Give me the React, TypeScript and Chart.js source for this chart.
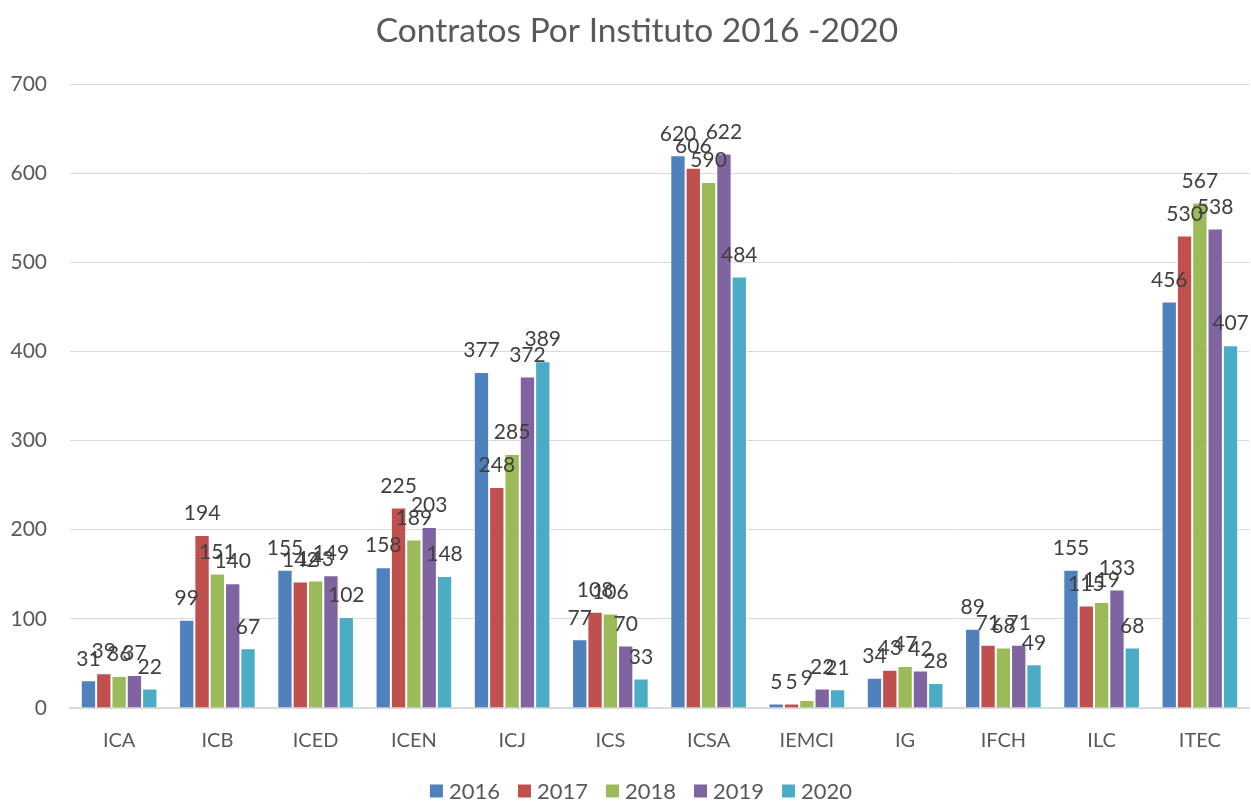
import React, { useEffect, useRef } from "react";
import { Chart, registerables } from "chart.js";

Chart.register(...registerables);

const categories = ["ICA", "ICB", "ICED", "ICEN", "ICJ", "ICS", "ICSA", "IEMCI", "IG", "IFCH", "ILC", "ITEC"];
const years = ["2016", "2017", "2018", "2019", "2020"];
const v2016 = [31, 99, 155, 158, 377, 77, 620, 5, 34, 89, 155, 456];
const v2017 = [39, 194, 142, 225, 248, 108, 606, 5, 43, 71, 115, 530];
const v2018 = [36, 151, 143, 189, 285, 106, 590, 9, 47, 68, 119, 567];
const v2019 = [37, 140, 149, 203, 372, 70, 622, 22, 42, 71, 133, 538];
const v2020 = [22, 67, 102, 148, 389, 33, 484, 21, 28, 49, 68, 407];
const colors = ["#4f81bd", "#c0504d", "#9bbb59", "#8064a2", "#4bacc6"];
const yTicks = [0, 100, 200, 300, 400, 500, 600, 700];
const titleText = "Contratos Por Instituto 2016 -2020";

const FONT = "Lato, 'Open Sans', sans-serif";

const labelPlugin = {
  id: "barLabels",
  afterDatasetsDraw(chart: any) {
    const ctx = chart.ctx;
    ctx.save();
    ctx.font = `21px ${FONT}`;
    ctx.fillStyle = "#404040";
    ctx.textAlign = "center";
    ctx.textBaseline = "bottom";
    chart.data.datasets.forEach((ds: any, i: number) => {
      const meta = chart.getDatasetMeta(i);
      meta.data.forEach((bar: any, j: number) => {
        ctx.fillText(String(ds.data[j]), bar.x, bar.y - 11);
      });
    });
    ctx.restore();
  },
};

const titleLegendPlugin = {
  id: "titleLegend",
  afterDraw(chart: any) {
    const ctx = chart.ctx;
    ctx.save();
    ctx.font = `33.5px ${FONT}`;
    ctx.fillStyle = "#595959";
    ctx.textAlign = "center";
    ctx.textBaseline = "middle";
    ctx.fillText(titleText, 637, 31);
    ctx.font = `22px ${FONT}`;
    const box = 13;
    const gapText = 6;
    const gapItem = 18;
    const widths = chart.data.datasets.map((ds: any) => box + gapText + ctx.measureText(ds.label).width);
    const total = widths.reduce((a: number, b: number) => a + b, 0) + gapItem * (widths.length - 1);
    let x = 641 - total / 2;
    const cy = 791;
    ctx.textAlign = "left";
    chart.data.datasets.forEach((ds: any, i: number) => {
      ctx.fillStyle = ds.backgroundColor;
      ctx.fillRect(x, cy - box / 2, box, box);
      ctx.fillStyle = "#595959";
      ctx.fillText(ds.label, x + box + gapText, cy + 1);
      x += widths[i] + gapItem;
    });
    ctx.restore();
  },
};

export default function App() {
  const ref = useRef<HTMLCanvasElement>(null);
  useEffect(() => {
    document.body.style.margin = "0";
    const series = [v2016, v2017, v2018, v2019, v2020];
    const chart = new Chart(ref.current!, {
      type: "bar",
      data: {
        labels: categories,
        datasets: series.map((d, i) => ({
          label: years[i],
          data: d,
          backgroundColor: colors[i],
          borderColor: "#ffffff",
          borderWidth: 1,
          barPercentage: 1,
          categoryPercentage: 0.78,
        })),
      },
      options: {
        responsive: false,
        animation: false,
        layout: { padding: { left: 0, right: 2, top: 84, bottom: 35 } },
        plugins: {
          title: { display: false },
          legend: { display: false },
          tooltip: { enabled: false },
        },
        scales: {
          x: {
            grid: { display: false },
            border: { color: "#d9d9d9", width: 1.5 },
            ticks: { color: "#595959", font: { family: FONT, size: 20 }, padding: 13 },
          },
          y: {
            min: 0,
            max: 700,
            afterBuildTicks: (axis: any) => {
              axis.ticks = yTicks.map((v) => ({ value: v }));
            },
            afterFit: (axis: any) => {
              axis.width = 70;
            },
            grid: { color: "#d9d9d9", drawTicks: false },
            border: { display: false },
            ticks: { color: "#595959", font: { family: FONT, size: 21 }, padding: 23 },
          },
        },
      },
      plugins: [labelPlugin, titleLegendPlugin],
    });
    return () => chart.destroy();
  }, []);
  return (
    <div style={{ width: 1251, height: 801 }}>
      <canvas ref={ref} width={1251} height={801} />
    </div>
  );
}
